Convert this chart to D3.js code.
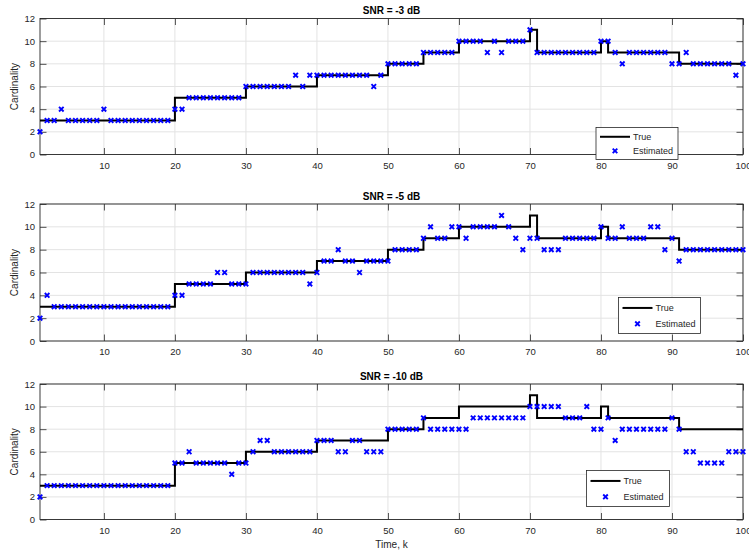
<!DOCTYPE html>
<html><head><meta charset="utf-8">
<script src="https://cdn.jsdelivr.net/npm/d3@7"></script>
<style>
body{margin:0;background:#fff}
svg{display:block;font-family:"Liberation Sans",Arial,Helvetica,sans-serif}
</style>
</head><body>
<svg id="c" width="749" height="553"></svg>
<script>
// ---------------- data ----------------
const titles = ["SNR = -3 dB", "SNR = -5 dB", "SNR = -10 dB"];
const timeK = d3.range(1, 101); // time index k = 1..100
const trueK   = [1, 20, 30, 40, 50, 55, 60, 70, 71, 80, 81, 91, 100];
const trueVal = [3,  5,  6,  7,  8,  9, 10, 11,  9, 10,  9,  8,   8];
const estSNR3 = [
  2,3,3,4,3,3,3,3,3,4,
  3,3,3,3,3,3,3,3,3,4,
  4,5,5,5,5,5,5,5,5,6,
  6,6,6,6,6,6,7,6,7,7,
  7,7,7,7,7,7,7,6,7,8,
  8,8,8,8,9,9,9,9,9,10,
  10,10,10,9,10,9,10,10,10,11,
  9,9,9,9,9,9,9,9,9,10,
  10,9,8,9,9,9,9,9,9,8,
  8,9,8,8,8,8,8,8,7,8];
const estSNR5 = [
  2,4,3,3,3,3,3,3,3,3,
  3,3,3,3,3,3,3,3,3,4,
  4,5,5,5,5,6,6,5,5,5,
  6,6,6,6,6,6,6,6,5,6,
  7,7,8,7,7,6,7,7,7,7,
  8,8,8,8,9,10,9,9,10,10,
  9,10,10,10,10,11,10,9,8,9,
  9,8,8,8,9,9,9,9,9,10,
  9,9,10,9,9,9,10,10,8,9,
  7,8,8,8,8,8,8,8,8,8];
const estSNR10 = [
  2,3,3,3,3,3,3,3,3,3,
  3,3,3,3,3,3,3,3,3,5,
  5,6,5,5,5,5,5,4,5,5,
  6,7,7,6,6,6,6,6,6,7,
  7,7,6,6,7,7,6,6,6,8,
  8,8,8,8,9,8,8,8,8,8,
  8,9,9,9,9,9,9,9,9,10,
  10,10,10,10,9,9,9,10,8,8,
  9,7,8,8,8,8,8,8,8,9,
  8,6,6,5,5,5,5,6,6,6];
const estimates = [estSNR3, estSNR5, estSNR10];
const xTicks = [10,20,30,40,50,60,70,80,90,100];
const yTicks = [0,2,4,6,8,10,12];
const legendLabels = ["True", "Estimated"];
const yLabel = "Cardinality";
const xLabel = "Time, k";

// ---------------- layout ----------------
const W = 749, H = 553;
const left = 40, right = 743;
const panels = [
  {top: 18.5, bottom: 154.5, leg: {x: 596, y: 127.5, w: 82, h: 32}},
  {top: 204,  bottom: 341,   leg: {x: 618.5, y: 297.5, w: 82, h: 36}},
  {top: 384,  bottom: 519.5, leg: {x: 586.5, y: 470.5, w: 83, h: 36}}
];
const axisColor = "#262626", gridColor = "#e3e3e3", blue = "#0000ff";
const tickLen = 6.5;

const svg = d3.select("#c");
svg.append("rect").attr("width", W).attr("height", H).attr("fill", "#fff");

const x = d3.scaleLinear().domain([1, 100]).range([left, right]);

function xMark(g, cx, cy, r) {
  g.append("path")
    .attr("d", `M${cx-r},${cy-r}L${cx+r},${cy+r}M${cx-r},${cy+r}L${cx+r},${cy-r}`)
    .attr("stroke", blue).attr("stroke-width", 1.9).attr("fill", "none");
}

panels.forEach((p, i) => {
  const y = d3.scaleLinear().domain([0, 12]).range([p.bottom, p.top]);
  const g = svg.append("g");

  // grid
  g.append("g").selectAll("line").data(xTicks).join("line")
    .attr("x1", d => x(d)).attr("x2", d => x(d))
    .attr("y1", p.top).attr("y2", p.bottom)
    .attr("stroke", gridColor).attr("stroke-width", 1);
  g.append("g").selectAll("line").data(yTicks).join("line")
    .attr("x1", left).attr("x2", right)
    .attr("y1", d => y(d)).attr("y2", d => y(d))
    .attr("stroke", gridColor).attr("stroke-width", 1);

  // axes
  const styleAxis = sel => {
    sel.select(".domain").remove();
    sel.selectAll(".tick line").attr("stroke", axisColor).attr("stroke-width", 0.8);
    sel.selectAll(".tick text").attr("fill", axisColor).style("font-size", "9.5px")
      .style("font-family", "'Liberation Sans',Arial,sans-serif");
  };
  g.append("g").attr("transform", `translate(0,${p.bottom})`)
    .call(d3.axisBottom(x).tickValues(xTicks).tickSize(-tickLen).tickPadding(7.5))
    .call(styleAxis);
  g.append("g").attr("transform", `translate(0,${p.top})`)
    .call(d3.axisTop(x).tickValues(xTicks).tickSize(-tickLen).tickFormat(""))
    .call(styleAxis);
  g.append("g").attr("transform", `translate(${left},0)`)
    .call(d3.axisLeft(y).tickValues(yTicks).tickSize(-tickLen).tickPadding(5))
    .call(styleAxis);
  g.append("g").attr("transform", `translate(${right},0)`)
    .call(d3.axisRight(y).tickValues(yTicks).tickSize(-tickLen).tickFormat(""))
    .call(styleAxis);

  // box
  g.append("rect").attr("x", left).attr("y", p.top)
    .attr("width", right - left).attr("height", p.bottom - p.top)
    .attr("fill", "none").attr("stroke", axisColor).attr("stroke-width", 0.9);

  // true stairs
  const line = d3.line().x(d => x(d[0])).y(d => y(d[1])).curve(d3.curveStepAfter);
  g.append("path").datum(trueK.map((k, j) => [k, trueVal[j]]))
    .attr("d", line).attr("fill", "none")
    .attr("stroke", "#000").attr("stroke-width", 2);

  // estimates
  const est = estimates[i];
  timeK.forEach((k, j) => xMark(g, x(k), y(est[j]), 2.3));

  // title
  g.append("text").attr("x", (left + right) / 2).attr("y", p.top - 4.5)
    .attr("text-anchor", "middle").attr("font-weight", "bold")
    .attr("font-size", "10px").attr("fill", "#000").text(titles[i]);

  // y label
  g.append("text")
    .attr("transform", `translate(18,${(p.top + p.bottom) / 2}) rotate(-90)`)
    .attr("text-anchor", "middle").attr("font-size", "10px")
    .attr("fill", axisColor).text(yLabel);

  // legend
  const L = p.leg;
  const lg = g.append("g");
  lg.append("rect").attr("x", L.x).attr("y", L.y).attr("width", L.w).attr("height", L.h)
    .attr("fill", "#fff").attr("stroke", axisColor).attr("stroke-width", 0.8);
  const ly1 = L.y + L.h * 0.29, ly2 = L.y + L.h * 0.73;
  lg.append("line").attr("x1", L.x + 4).attr("x2", L.x + 34)
    .attr("y1", ly1).attr("y2", ly1).attr("stroke", "#000").attr("stroke-width", 2);
  xMark(lg, L.x + 19, ly2, 2.3);
  lg.append("text").attr("x", L.x + 37).attr("y", ly1 + 3.3)
    .attr("font-size", "9px").attr("fill", axisColor).text(legendLabels[0]);
  lg.append("text").attr("x", L.x + 37).attr("y", ly2 + 3.3)
    .attr("font-size", "9px").attr("fill", axisColor).text(legendLabels[1]);
});

// x label
svg.append("text").attr("x", (left + right) / 2).attr("y", 547.5)
  .attr("text-anchor", "middle").attr("font-size", "10px")
  .attr("fill", axisColor).text(xLabel);
</script>
</body></html>
